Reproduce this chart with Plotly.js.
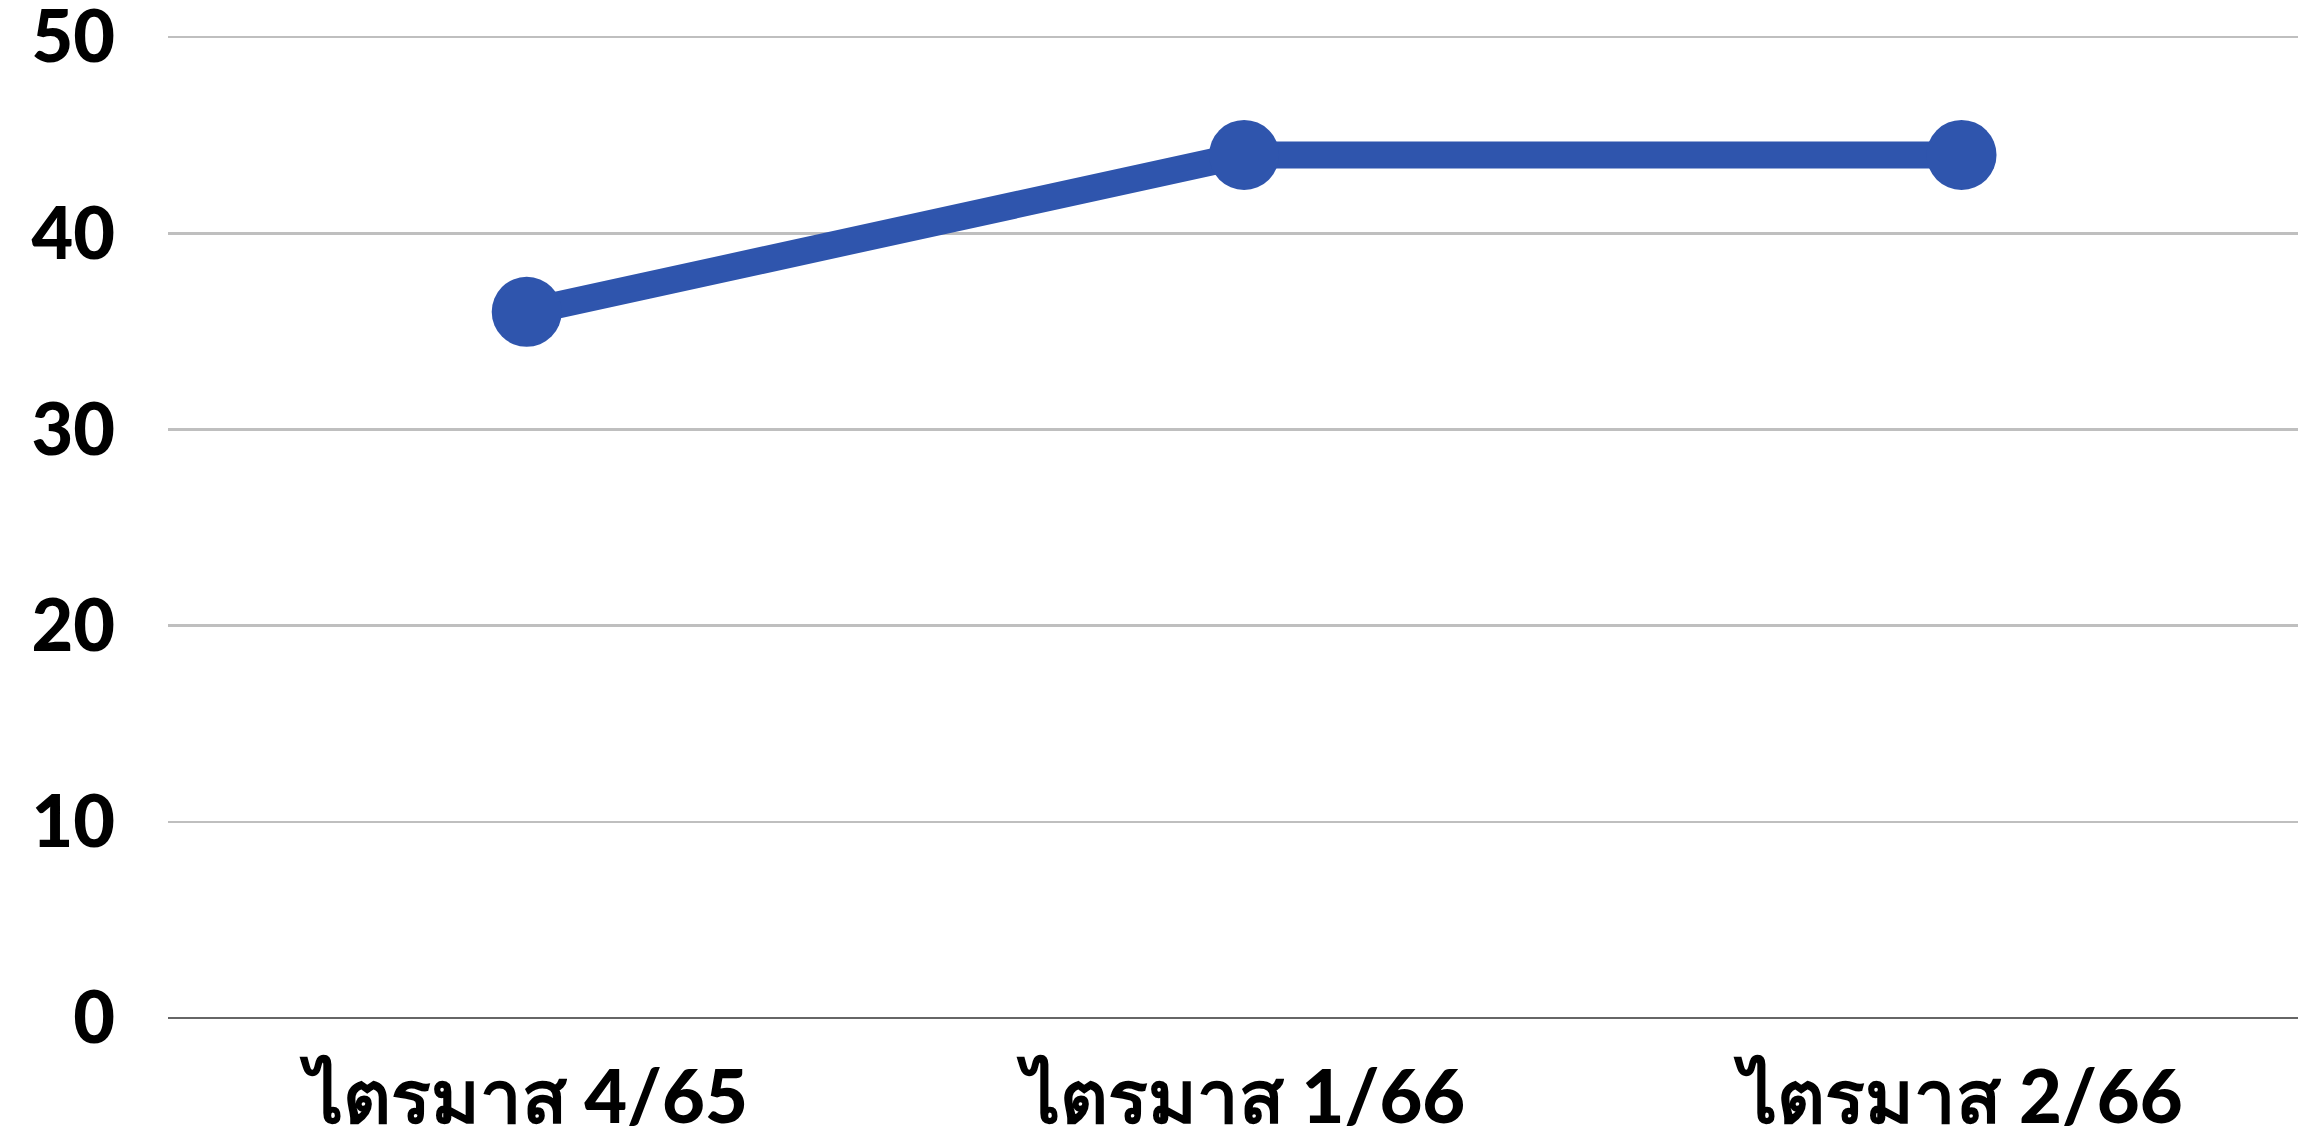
<!DOCTYPE html>
<html>
<head>
<meta charset="utf-8">
<script src="https://cdn.plot.ly/plotly-3.0.1.min.js"></script>
<style>html,body{margin:0;padding:0;background:#fff;}#chart{width:2298px;height:1145px;}</style>
</head>
<body>
<div id="chart"></div>
<script>
const categories = ["ไตรมาส 4/65", "ไตรมาส 1/66", "ไตรมาส 2/66"];
const values = [36, 44, 44];
const yTicks = [0, 10, 20, 30, 40, 50];

const trace = {
  x: categories,
  y: values,
  type: "scatter",
  mode: "lines+markers",
  line: {color: "#2f55ad", width: 27},
  marker: {color: "#2f55ad", size: 70},
  cliponaxis: false,
  hoverinfo: "none"
};

const layout = {
  width: 2298,
  height: 1145,
  margin: {l: 168, r: 0, t: 36, b: 127, pad: 0},
  paper_bgcolor: "#ffffff",
  plot_bgcolor: "#ffffff",
  showlegend: false,
  font: {family: "Lato, sans-serif", color: "#000000"},
  xaxis: {
    type: "category",
    range: [-0.5, 2.469],
    tickvals: categories,
    ticktext: categories,
    showgrid: false,
    zeroline: false,
    showline: false,
    ticks: "",
    ticklabelstandoff: 30,
    automargin: false,
    tickfont: {size: 74, family: "Lato, sans-serif", weight: 900, color: "#000000"}
  },
  yaxis: {
    range: [0, 50.06],
    tickvals: yTicks,
    ticktext: yTicks.map(String),
    showgrid: true,
    gridcolor: "#bfbfbf",
    gridwidth: 2.5,
    zeroline: true,
    zerolinecolor: "#666666",
    zerolinewidth: 2.5,
    showline: false,
    ticks: "",
    ticklabelstandoff: 52,
    ticklabeloverflow: "allow",
    automargin: false,
    tickfont: {size: 72, family: "Lato, sans-serif", weight: 900, color: "#000000"}
  }
};

Plotly.newPlot("chart", [trace], layout, {staticPlot: true, displayModeBar: false});
</script>
</body>
</html>
